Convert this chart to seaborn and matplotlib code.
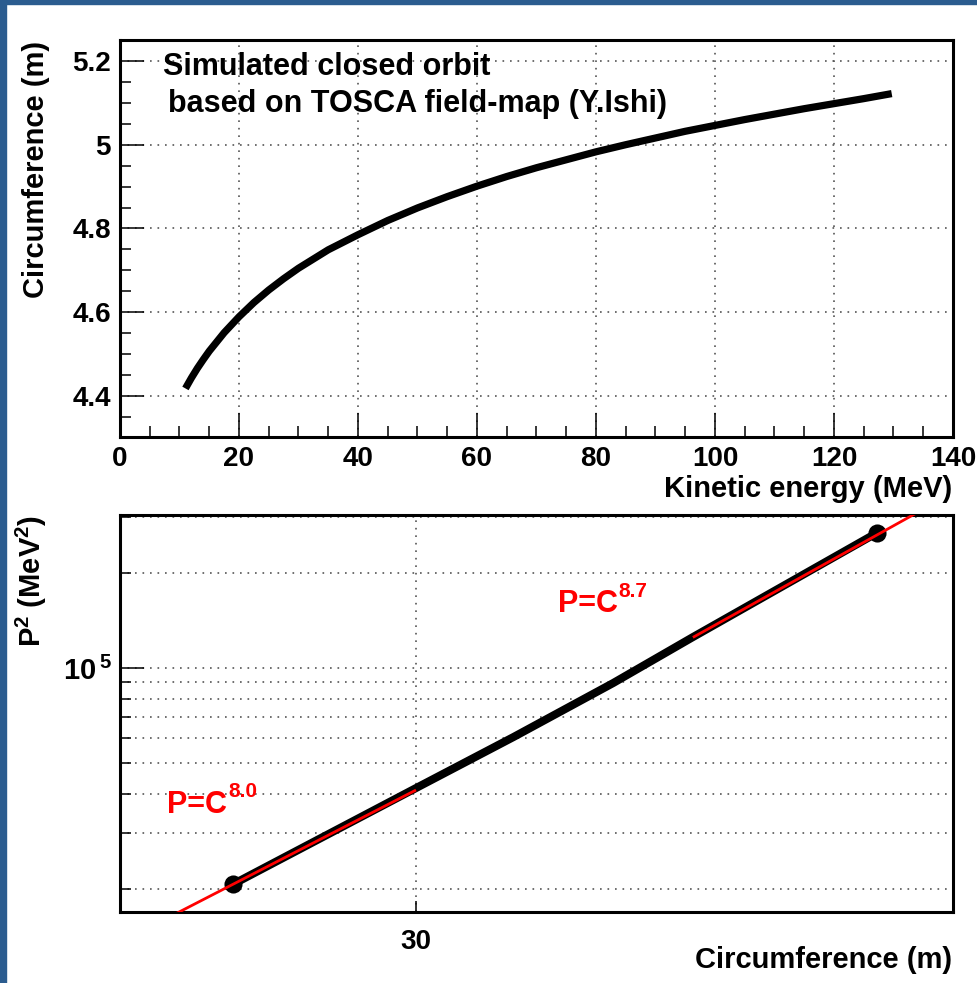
import matplotlib
matplotlib.use("Agg")
import matplotlib.pyplot as plt
import matplotlib.ticker as mticker
from matplotlib.patches import Rectangle
import seaborn as sns

# ---------------- data ----------------
kinetic_energy = [11, 12, 13, 14, 15, 17.5, 20, 22.5, 25, 27.5, 30, 35, 40, 45, 50, 55, 60, 65,
                  70, 75, 80, 85, 90, 95, 100, 105, 110, 115, 120, 125, 129.7]
circumference = [4.418, 4.443, 4.466, 4.487, 4.507, 4.551, 4.589, 4.623, 4.653, 4.680, 4.705,
                 4.749, 4.785, 4.819, 4.849, 4.876, 4.901, 4.924, 4.945, 4.964, 4.983, 5.000,
                 5.016, 5.032, 5.046, 5.060, 5.073, 5.086, 5.098, 5.110, 5.122]

top_x_ticks = [0, 20, 40, 60, 80, 100, 120, 140]
top_x_labels = ["0", "20", "40", "60", "80", "100", "120", "140"]
top_y_ticks = [4.4, 4.6, 4.8, 5.0, 5.2]
top_y_labels = ["4.4", "4.6", "4.8", "5", "5.2"]

orbit_circ = [28.75, 30.00, 30.69, 31.41, 32.00, 33.40]
orbit_p2 = [20720, 41700, 60500, 89600, 125300, 267400]
end_circ = [28.75, 33.40]
end_p2 = [20720, 267400]
fit_low_circ = [28.2, 30.0]
fit_low_p2 = [15180, 41100]
fit_high_circ = [32.0, 34.0]
fit_high_p2 = [125000, 358900]
fit_exponents = ["8.0", "8.7"]

bot_x_ticks = [30]
bot_x_labels = ["30"]
bot_y_ticks = [1e5]
bot_y_labels = [r"$10^{\,5}$"]

# ---------------- style ----------------
sns.set_theme(style="white")
plt.rcParams.update({
    "font.family": ["Liberation Sans", "DejaVu Sans"],
    "font.weight": "bold",
    "axes.labelweight": "bold",
    "mathtext.fontset": "custom",
    "mathtext.rm": "Liberation Sans:bold",
    "mathtext.bf": "Liberation Sans:bold",
    "mathtext.default": "rm",
    "axes.edgecolor": "black",
    "axes.linewidth": 2.2,
})

W, H = 978, 983
fig = plt.figure(figsize=(W / 100, H / 100), dpi=100)
fig.patch.set_facecolor("white")
blue = "#2b5c8f"
fig.add_artist(Rectangle((0, 0), 6 / W, 1, transform=fig.transFigure, color=blue, zorder=10))
fig.add_artist(Rectangle((0, 1 - 4 / H), 1, 4 / H, transform=fig.transFigure, color=blue, zorder=10))

ax1 = fig.add_axes([120 / W, 1 - 437 / H, 833 / W, 397 / H])
ax2 = fig.add_axes([120 / W, 1 - 912 / H, 833 / W, 397 / H])

grid_kw = dict(color="#555555", linestyle=(0, (1, 3.5)), linewidth=1.2)

# ---------------- top panel ----------------
sns.lineplot(x=kinetic_energy, y=circumference, ax=ax1, color="black", linewidth=5.2,
             sort=False, solid_capstyle="butt")
ax1.set_xlim(0, 140)
ax1.set_ylim(4.302, 5.25)
ax1.xaxis.set_major_locator(mticker.FixedLocator(top_x_ticks))
ax1.xaxis.set_major_formatter(mticker.FixedFormatter(top_x_labels))
ax1.xaxis.set_minor_locator(mticker.MultipleLocator(5))
ax1.yaxis.set_major_locator(mticker.FixedLocator(top_y_ticks))
ax1.yaxis.set_major_formatter(mticker.FixedFormatter(top_y_labels))
ax1.yaxis.set_minor_locator(mticker.MultipleLocator(0.05))
ax1.grid(True, which="major", **grid_kw)
ax1.set_axisbelow(True)
ax1.tick_params(which="both", direction="in", bottom=True, left=True, top=False, right=False,
                width=1.1, color="black", labelsize=20, labelcolor="black")
ax1.tick_params(which="major", length=17)
ax1.tick_params(which="minor", length=8)
ax1.tick_params(axis="x", which="major", pad=6.5)
ax1.tick_params(axis="y", which="major", pad=6.5)

ax1.set_xlabel("Kinetic energy (MeV)", fontsize=21, color="black")
ax1.xaxis.label.set_ha("right")
ax1.xaxis.label.set_va("center")
ax1.xaxis.set_label_coords((952 - 120) / 833, (437 - 489) / 397)
ax1.set_ylabel("Circumference (m)", fontsize=21, color="black")
ax1.yaxis.label.set_rotation_mode("anchor")
ax1.yaxis.label.set_ha("right")
ax1.yaxis.label.set_va("center")
ax1.yaxis.set_label_coords((36 - 120) / 833, (437 - 41) / 397)

ax1.text((163 - 120) / 833, (437 - 75) / 397, "Simulated closed orbit", transform=ax1.transAxes,
         fontsize=22, fontweight="bold", va="baseline", ha="left", color="black")
ax1.text((168 - 120) / 833, (437 - 112) / 397, "based on TOSCA field-map (Y.Ishi)",
         transform=ax1.transAxes, fontsize=22, fontweight="bold", va="baseline", ha="left",
         color="black")

# ---------------- bottom panel ----------------
ax2.set_xscale("log")
ax2.set_yscale("log")
sns.lineplot(x=orbit_circ, y=orbit_p2, ax=ax2, color="black", linewidth=5.8,
             solid_capstyle="butt", zorder=3)
sns.scatterplot(x=end_circ, y=end_p2, ax=ax2, color="black", s=170, edgecolor="black",
                linewidth=0, zorder=4)
sns.lineplot(x=fit_low_circ, y=fit_low_p2, ax=ax2, color="red", linewidth=2.0, zorder=5,
             solid_capstyle="butt")
sns.lineplot(x=fit_high_circ, y=fit_high_p2, ax=ax2, color="red", linewidth=2.0, zorder=5,
             solid_capstyle="butt")
ax2.set_xlim(28, 34)
ax2.set_ylim(1.69e4, 3.05e5)
ax2.xaxis.set_major_locator(mticker.FixedLocator(bot_x_ticks))
ax2.xaxis.set_major_formatter(mticker.FixedFormatter(bot_x_labels))
ax2.xaxis.set_minor_locator(mticker.NullLocator())
ax2.xaxis.set_minor_formatter(mticker.NullFormatter())
ax2.yaxis.set_major_locator(mticker.FixedLocator(bot_y_ticks))
ax2.yaxis.set_major_formatter(mticker.FixedFormatter(bot_y_labels))
ax2.yaxis.set_minor_locator(mticker.LogLocator(base=10, subs=range(2, 10), numticks=20))
ax2.yaxis.set_minor_formatter(mticker.NullFormatter())
ax2.grid(True, which="major", **grid_kw)
ax2.grid(True, which="minor", axis="y", **grid_kw)
ax2.set_axisbelow(True)
ax2.tick_params(which="both", direction="in", bottom=True, left=True, top=False, right=False,
                width=1.1, color="black", labelsize=20, labelcolor="black")
ax2.tick_params(axis="y", which="major", length=17, pad=6, labelsize=21)
ax2.tick_params(axis="y", which="minor", length=8)
ax2.tick_params(axis="x", which="major", length=8, pad=12)

ax2.set_xlabel("Circumference (m)", fontsize=21, color="black")
ax2.xaxis.label.set_ha("right")
ax2.xaxis.label.set_va("center")
ax2.xaxis.set_label_coords((952 - 120) / 833, (912 - 960) / 397)
ax2.set_ylabel(r"P$^{2}$ (MeV$^{2}$)", fontsize=21, color="black")
ax2.yaxis.label.set_rotation_mode("anchor")
ax2.yaxis.label.set_ha("right")
ax2.yaxis.label.set_va("center")
ax2.yaxis.set_label_coords((31 - 120) / 833, (912 - 515) / 397)

ax2.text((167 - 120) / 833, (912 - 813) / 397, "P=C", transform=ax2.transAxes, fontsize=22,
         fontweight="bold", color="red", va="baseline", ha="left")
ax2.text((228 - 120) / 833, (912 - 797) / 397, fit_exponents[0], transform=ax2.transAxes,
         fontsize=15, fontweight="bold", color="red", va="baseline", ha="left")
ax2.text((558 - 120) / 833, (912 - 612) / 397, "P=C", transform=ax2.transAxes, fontsize=22,
         fontweight="bold", color="red", va="baseline", ha="left")
ax2.text((618 - 120) / 833, (912 - 597) / 397, fit_exponents[1], transform=ax2.transAxes,
         fontsize=15, fontweight="bold", color="red", va="baseline", ha="left")

fig.savefig("out.png", dpi=100, facecolor="white")
